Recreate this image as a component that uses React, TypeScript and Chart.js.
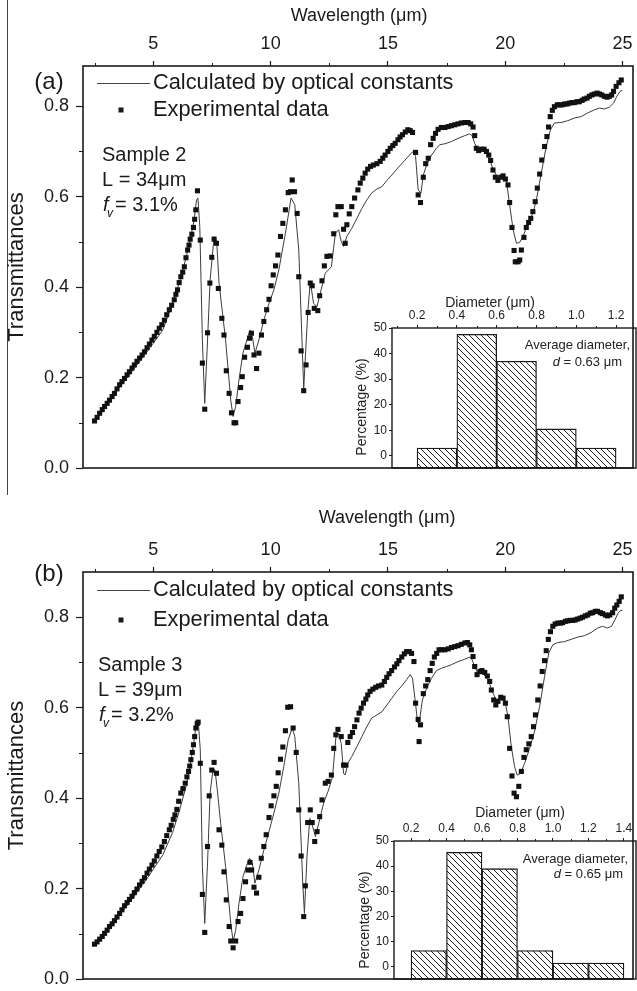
import React, { useEffect, useRef } from 'react';
import { Chart, registerables } from 'chart.js';

Chart.register(...registerables);

const FONT = '"Liberation Sans", Arial, Helvetica, sans-serif';
const INK = '#1a1a1a';

// ---- main axes ----
const WL_MAJOR = [5, 10, 15, 20, 25];
const WL_MINOR = [2.5, 7.5, 12.5, 17.5, 22.5];
const T_MAJOR = [0, 0.2, 0.4, 0.6, 0.8];
const T_MINOR = [0.1, 0.3, 0.5, 0.7];

// ---- panel (a): experimental [wavelength um, transmittance] ----
const A_EXP = [
  [2.49, 0.104], [2.6, 0.112], [2.71, 0.121], [2.82, 0.129], [2.92, 0.136], [3.03, 0.143], [3.13, 0.15],
  [3.24, 0.158], [3.34, 0.165], [3.45, 0.175], [3.56, 0.184], [3.66, 0.191], [3.77, 0.198], [3.88, 0.206],
  [3.98, 0.213], [4.09, 0.221], [4.19, 0.228], [4.3, 0.236], [4.41, 0.243], [4.52, 0.25], [4.62, 0.257],
  [4.73, 0.266], [4.83, 0.274], [4.94, 0.283], [5.04, 0.291], [5.15, 0.3], [5.25, 0.309], [5.36, 0.317],
  [5.47, 0.327], [5.57, 0.339], [5.68, 0.35], [5.78, 0.36], [5.89, 0.372], [5.96, 0.384], [6.03, 0.394],
  [6.1, 0.41], [6.17, 0.423], [6.25, 0.433], [6.32, 0.445], [6.39, 0.465], [6.46, 0.482], [6.52, 0.493],
  [6.57, 0.506], [6.64, 0.517], [6.71, 0.532], [6.76, 0.55], [6.81, 0.571], [6.88, 0.613], [7.0, 0.504],
  [7.09, 0.232], [7.19, 0.13], [7.31, 0.299], [7.41, 0.409], [7.49, 0.466], [7.59, 0.506], [7.69, 0.497],
  [7.77, 0.397], [7.92, 0.331], [8.01, 0.294], [8.11, 0.215], [8.23, 0.165], [8.33, 0.122], [8.44, 0.1],
  [8.51, 0.1], [8.61, 0.147], [8.72, 0.178], [8.79, 0.202], [8.89, 0.245], [9.01, 0.267], [9.1, 0.287],
  [9.18, 0.298], [9.29, 0.25], [9.4, 0.22], [9.5, 0.254], [9.61, 0.294], [9.71, 0.324], [9.83, 0.35],
  [9.93, 0.373], [10.02, 0.403], [10.11, 0.427], [10.21, 0.447], [10.31, 0.471], [10.42, 0.512], [10.52, 0.541],
  [10.63, 0.571], [10.75, 0.609], [10.85, 0.611], [10.92, 0.637], [11.02, 0.611], [11.13, 0.563], [11.2, 0.423],
  [11.3, 0.259], [11.41, 0.171], [11.51, 0.228], [11.6, 0.344], [11.69, 0.409], [11.77, 0.403], [11.86, 0.353],
  [12.01, 0.348], [12.09, 0.381], [12.19, 0.414], [12.29, 0.447], [12.4, 0.468], [12.54, 0.469], [12.69, 0.518],
  [12.78, 0.56], [12.87, 0.578], [13.01, 0.578], [13.11, 0.528], [13.18, 0.497], [13.25, 0.538], [13.35, 0.562],
  [13.46, 0.578], [13.58, 0.597], [13.72, 0.615], [13.82, 0.63], [13.93, 0.641], [14.03, 0.652], [14.14, 0.661],
  [14.26, 0.667], [14.38, 0.67], [14.53, 0.673], [14.67, 0.678], [14.78, 0.685], [14.88, 0.692], [15.0, 0.7],
  [15.1, 0.707], [15.21, 0.713], [15.31, 0.718], [15.43, 0.726], [15.52, 0.732], [15.62, 0.737], [15.74, 0.743],
  [15.85, 0.748], [15.95, 0.746], [16.05, 0.742], [16.18, 0.698], [16.29, 0.604], [16.39, 0.587], [16.51, 0.643],
  [16.61, 0.673], [16.72, 0.685], [16.82, 0.715], [16.93, 0.729], [17.03, 0.74], [17.14, 0.749], [17.28, 0.753],
  [17.43, 0.753], [17.57, 0.755], [17.71, 0.757], [17.85, 0.759], [17.99, 0.761], [18.13, 0.763], [18.28, 0.764],
  [18.42, 0.764], [18.53, 0.761], [18.63, 0.754], [18.7, 0.735], [18.77, 0.707], [18.87, 0.702], [18.99, 0.705],
  [19.1, 0.705], [19.2, 0.7], [19.3, 0.692], [19.38, 0.68], [19.48, 0.659], [19.58, 0.643], [19.69, 0.636],
  [19.81, 0.643], [19.91, 0.646], [20.01, 0.639], [20.12, 0.626], [20.19, 0.587], [20.29, 0.532], [20.38, 0.481],
  [20.43, 0.456], [20.55, 0.456], [20.62, 0.46], [20.69, 0.482], [20.8, 0.51], [20.9, 0.532], [21.0, 0.543],
  [21.09, 0.552], [21.18, 0.567], [21.28, 0.589], [21.37, 0.619], [21.47, 0.65], [21.56, 0.681], [21.68, 0.711],
  [21.78, 0.733], [21.85, 0.754], [21.92, 0.777], [22.01, 0.791], [22.1, 0.799], [22.22, 0.803], [22.31, 0.803],
  [22.43, 0.803], [22.53, 0.805], [22.64, 0.805], [22.74, 0.807], [22.85, 0.808], [22.95, 0.808], [23.06, 0.81],
  [23.16, 0.81], [23.28, 0.813], [23.37, 0.816], [23.49, 0.818], [23.59, 0.822], [23.7, 0.825], [23.8, 0.827],
  [23.92, 0.829], [24.02, 0.827], [24.12, 0.825], [24.23, 0.822], [24.34, 0.82], [24.44, 0.822], [24.54, 0.825],
  [24.62, 0.833], [24.73, 0.844], [24.85, 0.852], [24.95, 0.858],
];

// ---- panel (a): calculated by optical constants ----
const A_CALC = [
  [2.49, 0.104], [3.28, 0.161], [3.98, 0.206], [4.69, 0.254], [5.4, 0.305], [5.82, 0.364], [6.1, 0.409],
  [6.39, 0.464], [6.6, 0.512], [6.74, 0.549], [6.84, 0.593], [6.9, 0.597], [6.98, 0.534], [7.09, 0.283],
  [7.19, 0.143], [7.31, 0.283], [7.42, 0.416], [7.59, 0.512], [7.7, 0.501], [7.8, 0.409], [8.08, 0.283],
  [8.3, 0.15], [8.4, 0.114], [8.51, 0.136], [8.65, 0.195], [8.82, 0.254], [9.01, 0.287], [9.12, 0.305],
  [9.22, 0.291], [9.33, 0.254], [9.5, 0.283], [9.71, 0.327], [9.93, 0.364], [10.14, 0.394], [10.35, 0.438],
  [10.63, 0.519], [10.87, 0.597], [11.03, 0.582], [11.2, 0.482], [11.41, 0.176], [11.58, 0.342], [11.69, 0.413],
  [11.83, 0.364], [11.98, 0.357], [12.08, 0.379], [12.33, 0.431], [12.59, 0.445], [12.76, 0.519], [12.9, 0.527],
  [13.01, 0.501], [13.11, 0.49], [13.25, 0.512], [13.46, 0.53], [13.68, 0.552], [13.89, 0.574], [14.1, 0.593],
  [14.31, 0.608], [14.53, 0.617], [14.74, 0.622], [14.96, 0.636], [15.17, 0.648], [15.38, 0.661], [15.59, 0.673],
  [15.8, 0.685], [15.99, 0.696], [16.09, 0.7], [16.18, 0.689], [16.29, 0.615], [16.41, 0.608], [16.51, 0.648],
  [16.65, 0.67], [16.86, 0.692], [17.07, 0.707], [17.21, 0.715], [17.43, 0.717], [17.71, 0.722], [17.99, 0.729],
  [18.28, 0.735], [18.49, 0.739], [18.59, 0.735], [18.7, 0.718], [18.84, 0.704], [19.06, 0.704], [19.27, 0.692],
  [19.48, 0.661], [19.69, 0.641], [19.91, 0.648], [20.05, 0.636], [20.19, 0.582], [20.34, 0.527], [20.48, 0.497],
  [20.62, 0.499], [20.76, 0.512], [20.97, 0.541], [21.18, 0.563], [21.33, 0.593], [21.54, 0.652], [21.75, 0.711],
  [21.93, 0.748], [22.1, 0.763], [22.38, 0.764], [22.67, 0.768], [22.95, 0.774], [23.23, 0.777], [23.51, 0.785],
  [23.8, 0.792], [24.02, 0.796], [24.23, 0.794], [24.44, 0.798], [24.62, 0.807], [24.76, 0.822], [24.9, 0.833],
  [25.0, 0.835],
];

// ---- panel (b): experimental ----
const B_EXP = [
  [2.49, 0.077], [2.6, 0.082], [2.71, 0.088], [2.82, 0.094], [2.92, 0.101], [3.03, 0.108], [3.13, 0.116],
  [3.24, 0.122], [3.34, 0.129], [3.45, 0.137], [3.56, 0.145], [3.66, 0.153], [3.77, 0.162], [3.88, 0.169],
  [3.98, 0.176], [4.09, 0.183], [4.19, 0.191], [4.3, 0.199], [4.41, 0.208], [4.52, 0.216], [4.62, 0.224],
  [4.73, 0.234], [4.83, 0.243], [4.94, 0.252], [5.04, 0.261], [5.15, 0.272], [5.25, 0.282], [5.36, 0.292],
  [5.47, 0.304], [5.57, 0.317], [5.68, 0.33], [5.76, 0.34], [5.85, 0.353], [5.92, 0.363], [6.0, 0.375],
  [6.08, 0.393], [6.17, 0.411], [6.26, 0.421], [6.36, 0.433], [6.43, 0.447], [6.5, 0.459], [6.55, 0.471],
  [6.6, 0.485], [6.66, 0.501], [6.71, 0.518], [6.76, 0.536], [6.81, 0.555], [6.87, 0.565], [6.91, 0.568],
  [7.0, 0.477], [7.09, 0.187], [7.19, 0.103], [7.31, 0.293], [7.38, 0.405], [7.49, 0.462], [7.59, 0.479],
  [7.69, 0.455], [7.8, 0.33], [7.92, 0.296], [8.01, 0.237], [8.11, 0.175], [8.23, 0.116], [8.3, 0.084],
  [8.4, 0.069], [8.51, 0.084], [8.61, 0.127], [8.72, 0.145], [8.82, 0.178], [8.93, 0.215], [9.03, 0.241],
  [9.12, 0.258], [9.19, 0.241], [9.29, 0.203], [9.4, 0.19], [9.5, 0.225], [9.6, 0.267], [9.71, 0.293],
  [9.81, 0.319], [9.93, 0.357], [10.02, 0.383], [10.14, 0.405], [10.24, 0.426], [10.32, 0.456], [10.42, 0.486],
  [10.52, 0.513], [10.63, 0.549], [10.73, 0.601], [10.85, 0.602], [10.96, 0.555], [11.09, 0.501], [11.2, 0.374],
  [11.3, 0.272], [11.41, 0.138], [11.48, 0.206], [11.58, 0.346], [11.69, 0.374], [11.77, 0.346], [11.88, 0.304],
  [11.98, 0.326], [12.09, 0.359], [12.19, 0.396], [12.33, 0.433], [12.45, 0.437], [12.59, 0.451], [12.69, 0.51],
  [12.78, 0.54], [12.87, 0.552], [13.01, 0.536], [13.11, 0.473], [13.21, 0.473], [13.29, 0.523], [13.39, 0.536],
  [13.49, 0.545], [13.58, 0.558], [13.68, 0.573], [13.77, 0.588], [13.86, 0.599], [13.96, 0.61], [14.06, 0.619],
  [14.14, 0.628], [14.24, 0.636], [14.36, 0.641], [14.48, 0.645], [14.6, 0.648], [14.74, 0.65], [14.85, 0.658],
  [14.95, 0.667], [15.05, 0.675], [15.16, 0.682], [15.28, 0.69], [15.38, 0.697], [15.47, 0.704], [15.59, 0.712],
  [15.7, 0.719], [15.8, 0.724], [15.91, 0.724], [16.01, 0.72], [16.11, 0.702], [16.18, 0.61], [16.29, 0.574],
  [16.33, 0.525], [16.39, 0.562], [16.51, 0.631], [16.61, 0.648], [16.7, 0.662], [16.8, 0.682], [16.89, 0.698],
  [16.98, 0.712], [17.08, 0.72], [17.18, 0.728], [17.29, 0.728], [17.43, 0.728], [17.57, 0.73], [17.71, 0.733],
  [17.85, 0.735], [17.99, 0.737], [18.13, 0.74], [18.28, 0.743], [18.39, 0.744], [18.49, 0.739], [18.56, 0.728],
  [18.63, 0.713], [18.7, 0.691], [18.8, 0.673], [18.92, 0.68], [19.01, 0.682], [19.13, 0.678], [19.24, 0.67],
  [19.34, 0.658], [19.41, 0.639], [19.51, 0.617], [19.6, 0.606], [19.69, 0.614], [19.81, 0.623], [19.91, 0.621],
  [20.01, 0.61], [20.09, 0.58], [20.19, 0.51], [20.29, 0.449], [20.38, 0.411], [20.48, 0.403], [20.58, 0.426],
  [20.69, 0.459], [20.8, 0.49], [20.9, 0.507], [21.01, 0.52], [21.11, 0.536], [21.21, 0.558], [21.29, 0.584],
  [21.39, 0.617], [21.49, 0.648], [21.58, 0.68], [21.68, 0.704], [21.75, 0.726], [21.84, 0.751], [21.93, 0.768],
  [22.03, 0.78], [22.13, 0.785], [22.24, 0.787], [22.35, 0.787], [22.45, 0.788], [22.57, 0.791], [22.67, 0.792],
  [22.78, 0.793], [22.88, 0.793], [22.99, 0.794], [23.09, 0.796], [23.2, 0.798], [23.3, 0.8], [23.42, 0.803],
  [23.52, 0.805], [23.63, 0.809], [23.73, 0.81], [23.84, 0.813], [23.94, 0.813], [24.06, 0.81], [24.15, 0.808],
  [24.27, 0.805], [24.36, 0.803], [24.46, 0.805], [24.58, 0.81], [24.67, 0.82], [24.76, 0.827], [24.86, 0.835],
  [24.95, 0.845],
];

// ---- panel (b): calculated ----
const B_CALC = [
  [2.49, 0.077], [3.27, 0.122], [3.98, 0.169], [4.69, 0.219], [5.4, 0.274], [5.82, 0.324], [6.1, 0.37],
  [6.39, 0.425], [6.6, 0.481], [6.74, 0.529], [6.84, 0.569], [6.91, 0.573], [7.0, 0.507], [7.09, 0.249],
  [7.19, 0.123], [7.31, 0.256], [7.42, 0.411], [7.55, 0.466], [7.63, 0.462], [7.73, 0.416], [7.87, 0.344],
  [8.08, 0.249], [8.3, 0.123], [8.4, 0.083], [8.51, 0.108], [8.65, 0.167], [8.82, 0.226], [9.01, 0.256],
  [9.1, 0.267], [9.22, 0.256], [9.33, 0.212], [9.5, 0.241], [9.71, 0.285], [9.93, 0.326], [10.14, 0.367],
  [10.35, 0.411], [10.56, 0.47], [10.75, 0.529], [10.92, 0.555], [11.03, 0.536], [11.2, 0.433], [11.37, 0.212],
  [11.44, 0.145], [11.55, 0.271], [11.67, 0.355], [11.77, 0.341], [11.91, 0.315], [12.05, 0.344], [12.26, 0.389],
  [12.47, 0.418], [12.64, 0.448], [12.78, 0.533], [12.9, 0.543], [13.01, 0.521], [13.11, 0.455], [13.18, 0.451],
  [13.29, 0.477], [13.46, 0.492], [13.68, 0.514], [13.89, 0.536], [14.1, 0.558], [14.31, 0.577], [14.53, 0.584],
  [14.74, 0.591], [14.96, 0.606], [15.17, 0.621], [15.38, 0.636], [15.59, 0.648], [15.8, 0.662], [15.95, 0.673],
  [16.05, 0.665], [16.16, 0.617], [16.27, 0.566], [16.37, 0.58], [16.47, 0.617], [16.65, 0.643], [16.86, 0.665],
  [17.07, 0.682], [17.28, 0.687], [17.5, 0.691], [17.71, 0.695], [17.99, 0.702], [18.28, 0.707], [18.49, 0.712],
  [18.59, 0.706], [18.7, 0.691], [18.84, 0.675], [19.06, 0.675], [19.27, 0.662], [19.48, 0.632], [19.62, 0.617],
  [19.81, 0.623], [19.98, 0.617], [20.12, 0.58], [20.26, 0.514], [20.4, 0.47], [20.51, 0.451], [20.66, 0.455],
  [20.83, 0.477], [21.04, 0.51], [21.25, 0.547], [21.47, 0.603], [21.68, 0.669], [21.86, 0.721], [22.03, 0.739],
  [22.24, 0.744], [22.52, 0.746], [22.81, 0.751], [23.09, 0.756], [23.37, 0.759], [23.66, 0.766], [23.94, 0.776],
  [24.15, 0.78], [24.36, 0.776], [24.53, 0.78], [24.67, 0.793], [24.81, 0.809], [24.93, 0.815], [25.0, 0.815],
];

// ---- insets: particle size distributions ----
const A_DIAM = [0.3, 0.5, 0.7, 0.9, 1.1];
const A_PCT = [3, 47.5, 37, 10.5, 3];
const A_DIAM_TICKS = [0.2, 0.4, 0.6, 0.8, 1.0, 1.2];
const A_DIAM_MINOR = [0.1, 0.3, 0.5, 0.7, 0.9, 1.1];

const B_DIAM = [0.3, 0.5, 0.7, 0.9, 1.1, 1.3];
const B_PCT = [6.5, 45.5, 39, 6.5, 1.5, 1.5];
const B_DIAM_TICKS = [0.2, 0.4, 0.6, 0.8, 1.0, 1.2, 1.4];
const B_DIAM_MINOR = [0.3, 0.5, 0.7, 0.9, 1.1, 1.3];

const PCT_TICKS = [0, 10, 20, 30, 40, 50];
const PCT_MIN = -4.8;
const PCT_MAX = 50;

const LEGEND_CALC = 'Calculated by optical constants';
const LEGEND_EXP = 'Experimental data';

function setTicks(values: number[]) {
  return (s: any) => {
    s.ticks = values.map((v) => ({ value: v }));
  };
}

function drawLine(ctx: CanvasRenderingContext2D, x1: number, y1: number, x2: number, y2: number) {
  ctx.moveTo(x1, y1);
  ctx.lineTo(x2, y2);
}

function mainDeco(p: any) {
  return {
    id: 'mainDeco',
    afterDatasetsDraw(chart: any) {
      const { ctx, chartArea: a, scales } = chart;
      const x = scales.x;
      const y = scales.y;
      ctx.save();
      ctx.strokeStyle = INK;
      ctx.lineWidth = 1.6;
      ctx.strokeRect(a.left, a.top, a.right - a.left, a.bottom - a.top);
      ctx.lineWidth = 1;
      ctx.beginPath();
      for (const v of WL_MINOR) {
        const px = Math.round(x.getPixelForValue(v)) + 0.5;
        drawLine(ctx, px, a.top, px, a.top - 3);
      }
      for (const v of T_MINOR) {
        const py = Math.round(y.getPixelForValue(v)) + 0.5;
        drawLine(ctx, a.left, py, a.left - 4, py);
      }
      ctx.stroke();

      ctx.fillStyle = INK;
      ctx.textBaseline = 'middle';
      ctx.textAlign = 'center';
      ctx.font = `18px ${FONT}`;
      ctx.fillText('Wavelength (μm)', p.titleX, p.titleY);
      ctx.font = `24px ${FONT}`;
      ctx.fillText(p.tag, p.tagX, p.tagY);

      ctx.save();
      ctx.translate(p.yTitleX, (a.top + a.bottom) / 2);
      ctx.rotate(-Math.PI / 2);
      ctx.font = `22px ${FONT}`;
      ctx.fillText('Transmittances', 0, 0);
      ctx.restore();

      // legend
      ctx.strokeStyle = '#444';
      ctx.lineWidth = 1.2;
      ctx.beginPath();
      drawLine(ctx, 97, p.legY1 + 0.5, 150, p.legY1 + 0.5);
      ctx.stroke();
      ctx.fillRect(121 - 2.5, p.legY2 - 2.5, 5, 5);
      ctx.textAlign = 'left';
      ctx.font = `21.8px ${FONT}`;
      ctx.fillText(chart.data.datasets[0].label, 153, p.legY1);
      ctx.fillText(chart.data.datasets[1].label, 153, p.legY2);

      // sample info
      ctx.font = `20px ${FONT}`;
      ctx.fillText(p.sample, p.infoX, p.infoY);
      ctx.fillText(p.thick, p.infoX, p.infoY + 25);
      const fy = p.infoY + 50;
      ctx.font = `italic 20px ${FONT}`;
      ctx.fillText('f', p.infoX + 1, fy);
      ctx.font = `italic 12px ${FONT}`;
      ctx.fillText('v', p.infoX + 5, fy + 9);
      ctx.font = `20px ${FONT}`;
      ctx.fillText(p.fv, p.infoX + 13, fy);
      ctx.restore();
    },
  };
}

function mainConfig(p: any): any {
  return {
    type: 'scatter',
    data: {
      datasets: [
        {
          label: LEGEND_CALC,
          data: p.calc.map(([x, y]: number[]) => ({ x, y })),
          showLine: true,
          borderColor: '#3c3c3c',
          borderWidth: 1,
          pointRadius: 0,
          tension: 0,
          order: 1,
        },
        {
          label: LEGEND_EXP,
          data: p.exp.map(([x, y]: number[]) => ({ x, y })),
          showLine: false,
          pointStyle: 'rect',
          pointRadius: 3.6,
          backgroundColor: '#111',
          borderColor: '#111',
          borderWidth: 0,
          order: 0,
        },
      ],
    },
    options: {
      responsive: false,
      animation: false,
      events: [],
      layout: { padding: { left: 0, right: 1, top: 0, bottom: p.padBottom } },
      plugins: { legend: { display: false }, tooltip: { enabled: false } },
      scales: {
        x: {
          type: 'linear',
          position: 'top',
          min: 2.0,
          max: 25.45,
          afterBuildTicks: setTicks(WL_MAJOR),
          afterFit: (s: any) => {
            s.height = p.xAxisH;
            s.paddingLeft = 0;
            s.paddingRight = 0;
          },
          grid: { display: true, drawOnChartArea: false, drawTicks: true, tickLength: 5, tickColor: INK, tickWidth: 1.2 },
          border: { display: false },
          title: { display: false },
          ticks: {
            font: { family: FONT, size: 18 },
            color: INK,
            padding: 6,
            maxRotation: 0,
            autoSkip: false,
            callback: (v: any) => String(v),
          },
        },
        y: {
          type: 'linear',
          min: 0,
          max: p.ymax,
          afterBuildTicks: setTicks(T_MAJOR),
          afterFit: (s: any) => {
            s.width = 83;
            s.paddingTop = 0;
            s.paddingBottom = 0;
          },
          grid: { display: true, drawOnChartArea: false, drawTicks: true, tickLength: 7, tickColor: INK, tickWidth: 1.2 },
          border: { display: false },
          title: { display: false },
          ticks: {
            font: { family: FONT, size: 18 },
            color: INK,
            padding: 7,
            autoSkip: false,
            callback: (v: any) => Number(v).toFixed(1),
          },
        },
      },
    },
    plugins: [mainDeco(p)],
  };
}

function makeHatch(): CanvasPattern | string {
  const c = document.createElement('canvas');
  c.width = 6;
  c.height = 6;
  const g = c.getContext('2d');
  if (!g) return '#fff';
  g.fillStyle = '#fff';
  g.fillRect(0, 0, 6, 6);
  g.strokeStyle = '#222';
  g.lineWidth = 1;
  g.beginPath();
  g.moveTo(-1, -1);
  g.lineTo(7, 7);
  g.moveTo(-1, 5);
  g.lineTo(1, 7);
  g.moveTo(5, -1);
  g.lineTo(7, 1);
  g.stroke();
  return g.createPattern(c, 'repeat') || '#fff';
}

function insetDeco(p: any) {
  return {
    id: 'insetDeco',
    afterDatasetsDraw(chart: any) {
      const { ctx, chartArea: a, scales } = chart;
      const x = scales.x;
      ctx.save();
      ctx.strokeStyle = INK;
      ctx.lineWidth = 1.4;
      ctx.strokeRect(a.left, a.top, a.right - a.left, a.bottom - a.top);
      ctx.lineWidth = 1;
      ctx.beginPath();
      for (const v of p.minor) {
        const px = Math.round(x.getPixelForValue(v)) + 0.5;
        drawLine(ctx, px, a.top, px, a.top - 2);
      }
      ctx.stroke();
      ctx.fillStyle = '#222';
      ctx.textBaseline = 'middle';
      ctx.textAlign = 'center';
      ctx.font = `14px ${FONT}`;
      ctx.fillText('Diameter (μm)', p.titleX, p.titleY);
      ctx.save();
      ctx.translate(p.yTitleX, p.yTitleY);
      ctx.rotate(-Math.PI / 2);
      ctx.fillText('Percentage (%)', 0, 0);
      ctx.restore();
      ctx.textAlign = 'right';
      ctx.font = `13px ${FONT}`;
      ctx.fillText('Average diameter,', p.noteX, p.noteY1);
      const rest = ` = ${p.avg} μm`;
      const wRest = ctx.measureText(rest).width;
      ctx.fillText(rest, p.noteX2, p.noteY2);
      ctx.font = `italic 13px ${FONT}`;
      ctx.fillText('d', p.noteX2 - wRest, p.noteY2);
      ctx.restore();
    },
  };
}

function insetConfig(p: any): any {
  return {
    type: 'bar',
    data: {
      datasets: [
        {
          label: 'Percentage',
          data: p.diam.map((d: number, i: number) => ({ x: d, y: [PCT_MIN, p.pct[i]] })),
          backgroundColor: p.hatch,
          borderColor: INK,
          borderWidth: 1.3,
          borderSkipped: false,
          barPercentage: 1,
          categoryPercentage: 1,
        },
      ],
    },
    options: {
      responsive: false,
      animation: false,
      events: [],
      layout: { padding: { left: 0, right: 1, top: 0, bottom: 1 } },
      plugins: { legend: { display: false }, tooltip: { enabled: false } },
      scales: {
        x: {
          type: 'linear',
          position: 'top',
          min: p.xmin,
          max: p.xmax,
          offset: false,
          afterBuildTicks: setTicks(p.ticks),
          afterFit: (s: any) => {
            s.height = p.xAxisH;
            s.paddingLeft = 0;
            s.paddingRight = 0;
          },
          grid: { display: true, offset: false, drawOnChartArea: false, drawTicks: true, tickLength: 3, tickColor: INK, tickWidth: 1 },
          border: { display: false },
          ticks: {
            font: { family: FONT, size: 12 },
            color: '#222',
            padding: 2,
            maxRotation: 0,
            autoSkip: false,
            callback: (v: any) => Number(v).toFixed(1),
          },
        },
        y: {
          type: 'linear',
          min: PCT_MIN,
          max: PCT_MAX,
          afterBuildTicks: setTicks(PCT_TICKS),
          afterFit: (s: any) => {
            s.width = p.yAxisW;
            s.paddingTop = 0;
            s.paddingBottom = 0;
          },
          grid: { display: true, drawOnChartArea: false, drawTicks: true, tickLength: 3, tickColor: INK, tickWidth: 1 },
          border: { display: false },
          ticks: {
            font: { family: FONT, size: 12 },
            color: '#222',
            padding: 2,
            autoSkip: false,
            callback: (v: any) => String(v),
          },
        },
      },
    },
    plugins: [insetDeco(p)],
  };
}

export default function App() {
  const refA = useRef<HTMLCanvasElement>(null);
  const refB = useRef<HTMLCanvasElement>(null);
  const refIA = useRef<HTMLCanvasElement>(null);
  const refIB = useRef<HTMLCanvasElement>(null);

  useEffect(() => {
    Chart.defaults.font.family = FONT;
    const hatch = makeHatch();
    const charts: Chart[] = [];
    if (refA.current) {
      charts.push(
        new Chart(refA.current, mainConfig({
          exp: A_EXP, calc: A_CALC, ymax: 0.889, xAxisH: 66, padBottom: 22,
          titleX: 359, titleY: 16, tag: '(a)', tagX: 49, tagY: 82, yTitleX: 17,
          legY1: 83, legY2: 110, infoX: 102, infoY: 155,
          sample: 'Sample 2', thick: 'L = 34μm', fv: '= 3.1%',
        }))
      );
    }
    if (refB.current) {
      charts.push(
        new Chart(refB.current, mainConfig({
          exp: B_EXP, calc: B_CALC, ymax: 0.9, xAxisH: 82, padBottom: 12,
          titleX: 387, titleY: 28, tag: '(b)', tagX: 49, tagY: 84, yTitleX: 17,
          legY1: 100, legY2: 130, infoX: 98, infoY: 175,
          sample: 'Sample 3', thick: 'L = 39μm', fv: '= 3.2%',
        }))
      );
    }
    if (refIA.current) {
      charts.push(
        new Chart(refIA.current, insetConfig({
          diam: A_DIAM, pct: A_PCT, ticks: A_DIAM_TICKS, minor: A_DIAM_MINOR, hatch,
          xmin: 0.074, xmax: 1.3, xAxisH: 38, yAxisW: 52,
          titleX: 150, titleY: 13, yTitleX: 22, yTitleY: 117,
          noteX: 290, noteY1: 55, noteX2: 282, noteY2: 72, avg: '0.63',
        }))
      );
    }
    if (refIB.current) {
      charts.push(
        new Chart(refIB.current, insetConfig({
          diam: B_DIAM, pct: B_PCT, ticks: B_DIAM_TICKS, minor: B_DIAM_MINOR, hatch,
          xmin: 0.104, xmax: 1.468, xAxisH: 41, yAxisW: 54,
          titleX: 180, titleY: 13, yTitleX: 25, yTitleY: 120,
          noteX: 288, noteY1: 59, noteX2: 283, noteY2: 74, avg: '0.65',
        }))
      );
    }
    return () => charts.forEach((c) => c.destroy());
  }, []);

  return (
    <div style={{ position: 'absolute', left: 0, top: 0, width: 637, height: 991, background: '#fff', overflow: 'hidden' }}>
      <div style={{ position: 'absolute', left: 7, top: 0, width: 1, height: 495, background: '#444' }} />
      <canvas ref={refA} width={637} height={490} style={{ position: 'absolute', left: 0, top: 0 }} />
      <canvas ref={refB} width={637} height={501} style={{ position: 'absolute', left: 0, top: 490 }} />
      <canvas ref={refIA} width={297} height={179} style={{ position: 'absolute', left: 340, top: 290 }} />
      <canvas ref={refIB} width={297} height={180} style={{ position: 'absolute', left: 340, top: 800 }} />
    </div>
  );
}
